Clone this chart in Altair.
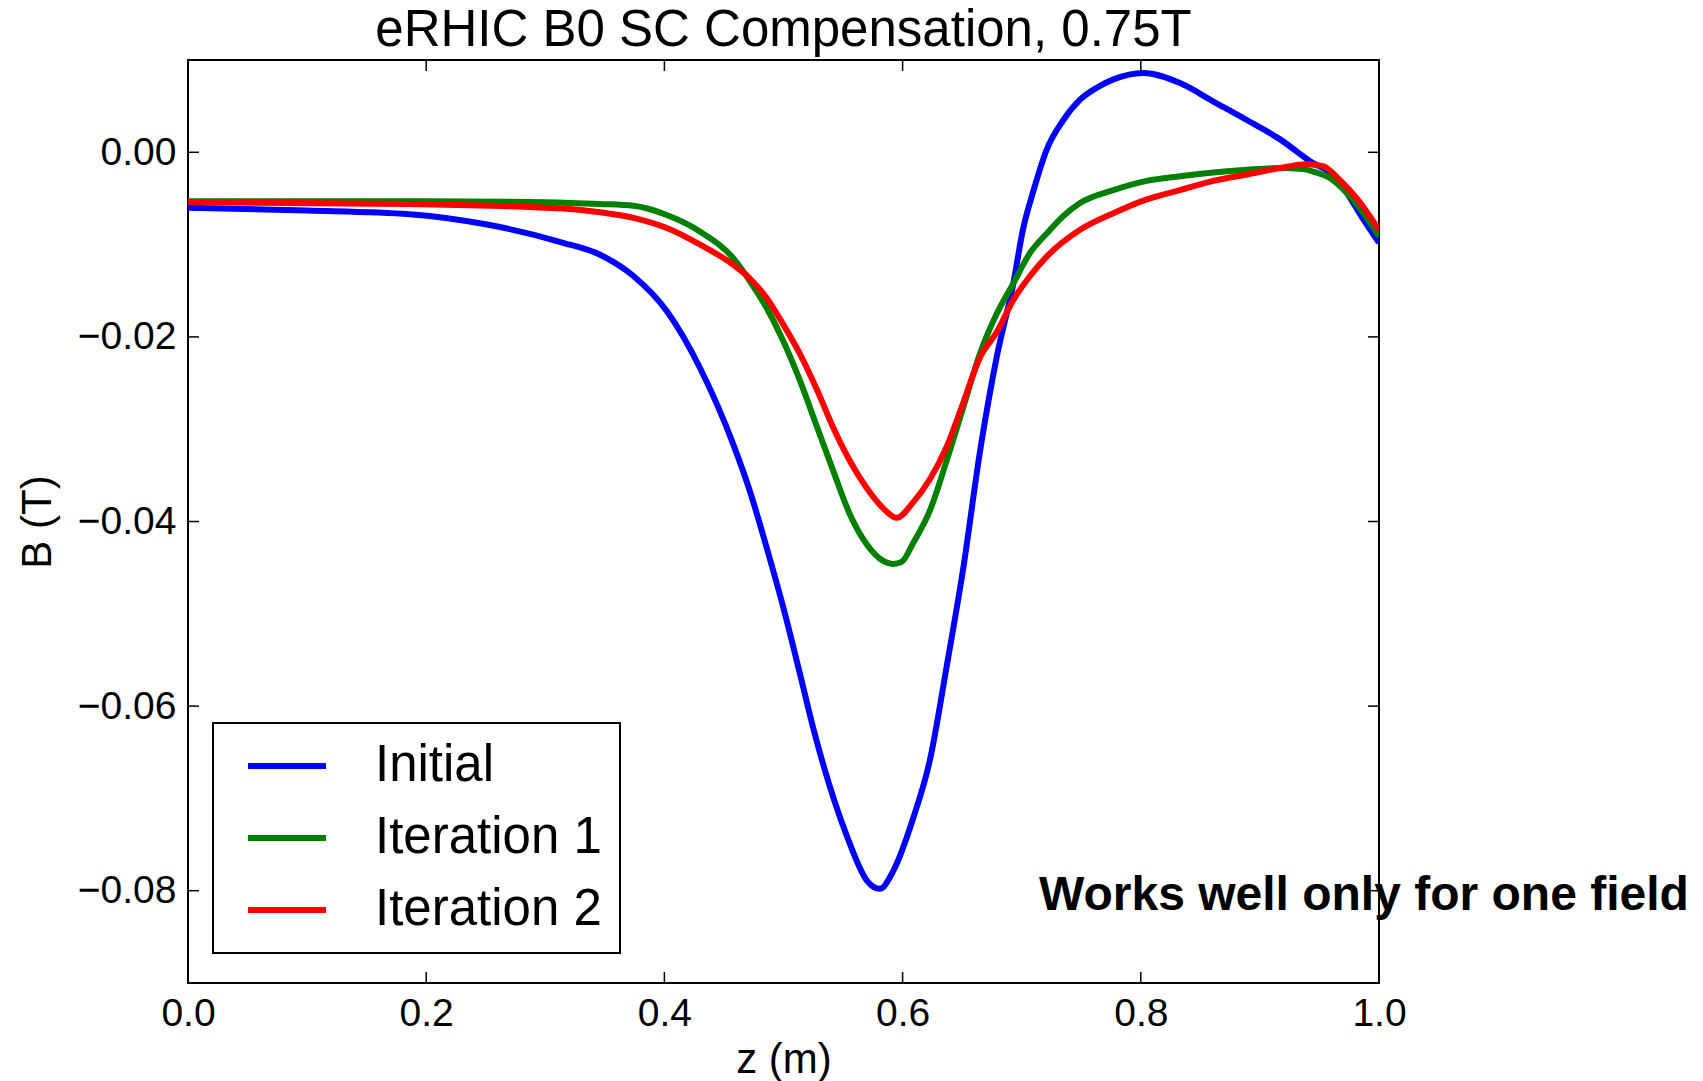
import altair as alt
import pandas as pd

TITLE = "eRHIC B0 SC Compensation, 0.75T"
X_TITLE = "z (m)"
Y_TITLE = "B (T)"
NOTE = "Works well only for one field"
SERIES = ["Initial", "Iteration 1", "Iteration 2"]
COLORS = ["#0000ff", "#008000", "#ff0000"]
X_TICKS = [0.0, 0.2, 0.4, 0.6, 0.8, 1.0]
Y_TICKS = [-0.08, -0.06, -0.04, -0.02, 0.0]
X_INNER_TICKS = [0.2, 0.4, 0.6, 0.8]

initial_z = [0.0, 0.10, 0.186, 0.25, 0.315, 0.346, 0.374, 0.402, 0.430, 0.458, 0.472,
             0.486, 0.500, 0.514, 0.525, 0.553, 0.570, 0.581, 0.592, 0.609, 0.623,
             0.637, 0.651, 0.665, 0.679, 0.693, 0.701, 0.710, 0.721, 0.735, 0.749,
             0.763, 0.777, 0.802, 0.833, 0.861, 0.889, 0.917, 0.945, 0.959, 0.973,
             0.987, 1.0]
initial_b = [-0.0060, -0.0063, -0.0067, -0.0078, -0.0098, -0.0111, -0.0134, -0.0172, -0.0234, -0.0317, -0.0368,
             -0.0429, -0.0494, -0.0566, -0.0624, -0.0740, -0.0789, -0.0798, -0.0779, -0.0721, -0.0658,
             -0.0557, -0.0450, -0.0324, -0.0222, -0.0142, -0.0084, -0.0041, 0.0003, 0.0035, 0.0057,
             0.0070, 0.0079, 0.0086, 0.0075, 0.0055, 0.0035, 0.0014, -0.0012, -0.0022, -0.0044,
             -0.0073, -0.0098]

iter1_z = [0.0, 0.20, 0.30, 0.346, 0.374, 0.402, 0.430, 0.458, 0.472, 0.486, 0.500,
           0.514, 0.528, 0.542, 0.556, 0.570, 0.584, 0.592, 0.599, 0.609, 0.623,
           0.637, 0.651, 0.665, 0.679, 0.693, 0.707, 0.721, 0.735, 0.749, 0.777,
           0.805, 0.833, 0.861, 0.889, 0.917, 0.936, 0.945, 0.959, 0.973, 0.987,
           1.0]
iter1_b = [-0.0053, -0.0053, -0.0054, -0.0056, -0.0058, -0.0068, -0.0086, -0.0115, -0.0140, -0.0169, -0.0205,
           -0.0248, -0.0297, -0.0346, -0.0393, -0.0425, -0.0443, -0.0446, -0.0444, -0.0423, -0.0388,
           -0.0334, -0.0276, -0.0218, -0.0175, -0.0142, -0.0109, -0.0088, -0.0069, -0.0055, -0.0041,
           -0.0031, -0.0026, -0.0022, -0.0019, -0.0017, -0.0018, -0.0021, -0.0028, -0.0044, -0.0066,
           -0.0091]

iter2_z = [0.0, 0.186, 0.315, 0.346, 0.374, 0.402, 0.430, 0.458, 0.472, 0.486, 0.500,
           0.514, 0.528, 0.542, 0.556, 0.570, 0.584, 0.595, 0.609, 0.623, 0.637,
           0.651, 0.665, 0.679, 0.693, 0.707, 0.721, 0.749, 0.777, 0.805, 0.833,
           0.861, 0.889, 0.917, 0.939, 0.953, 0.967, 0.982, 1.0]
iter2_b = [-0.0054, -0.0056, -0.0061, -0.0065, -0.0071, -0.0082, -0.0100, -0.0122, -0.0137, -0.0158, -0.0187,
           -0.0219, -0.0257, -0.0299, -0.0335, -0.0364, -0.0386, -0.0396, -0.0379, -0.0354, -0.0319,
           -0.0271, -0.0222, -0.0195, -0.0160, -0.0134, -0.0113, -0.0084, -0.0066, -0.0051, -0.0041,
           -0.0031, -0.0024, -0.0017, -0.0013, -0.0015, -0.0030, -0.0051, -0.0084]

FONT = "Liberation Sans"
W, H = 1191, 923

rows = []
for name, zs, bs in zip(SERIES, [initial_z, iter1_z, iter2_z], [initial_b, iter1_b, iter2_b]):
    for z, b in zip(zs, bs):
        rows.append({"z": z, "B": b, "series": name})
df = pd.DataFrame(rows)

x_scale = alt.Scale(domain=[0, 1], nice=False, zero=False)
y_scale = alt.Scale(domain=[-0.09, 0.01], nice=False, zero=False)
color_scale = alt.Scale(domain=SERIES, range=COLORS)

x_axis = alt.Axis(values=X_TICKS, format=".1f", labelPadding=11, tickSize=0, ticks=False,
                  labelFlush=False, labelOverlap=False, title=X_TITLE,
                  titleY=89, titleBaseline="alphabetic")
y_axis = alt.Axis(values=Y_TICKS, format=".2f", labelPadding=12, tickSize=0, ticks=False,
                  labelOverlap=False, title=Y_TITLE, titleAngle=270, titleX=-138, titleY=H / 2,
                  titleBaseline="alphabetic", titleAlign="center")

X_ENC = alt.X("z:Q", scale=x_scale, axis=x_axis)
Y_ENC = alt.Y("B:Q", scale=y_scale, axis=y_axis)

legend = alt.Legend(orient="none", legendX=25, legendY=663, title=None,
                    symbolType="stroke", symbolSize=6084, symbolStrokeWidth=6,
                    labelFontSize=51, labelFont=FONT, labelLimit=500, labelOffset=46,
                    symbolOffset=14, padding=18, rowPadding=21, clipHeight=50,
                    strokeColor="black", fillColor="white", labelColor="black")

layers = []
for name in SERIES:
    layers.append(
        alt.Chart(df).transform_filter(alt.datum.series == name)
        .mark_line(strokeWidth=6, interpolate="monotone", clip=True)
        .encode(x=X_ENC, y=Y_ENC,
                color=alt.Color("series:N", scale=color_scale, legend=legend))
    )

xt = pd.DataFrame({"z": X_INNER_TICKS})
yt = pd.DataFrame({"B": Y_TICKS})
tick_style = dict(color="black", strokeWidth=1.5)
top_ticks = alt.Chart(xt).mark_rule(**tick_style).encode(x=X_ENC, y=alt.value(0), y2=alt.value(11))
bot_ticks = alt.Chart(xt).mark_rule(**tick_style).encode(x=X_ENC, y=alt.value(H - 11), y2=alt.value(H))
left_ticks = alt.Chart(yt).mark_rule(**tick_style).encode(y=Y_ENC, x=alt.value(0), x2=alt.value(11))
right_ticks = alt.Chart(yt).mark_rule(**tick_style).encode(y=Y_ENC, x=alt.value(W - 11), x2=alt.value(W))

note = alt.Chart(pd.DataFrame({"note": [NOTE]})).mark_text(
    align="left", baseline="alphabetic", fontSize=48, fontWeight="bold", font=FONT, color="black"
).encode(text="note:N", x=alt.value(851), y=alt.value(850))

chart = alt.layer(*layers, top_ticks, bot_ticks, left_ticks, right_ticks, note).properties(
    width=W, height=H,
    title=alt.Title(TITLE, fontSize=51, font=FONT, fontWeight="normal", anchor="middle", offset=2, color="black"),
    autosize=alt.AutoSizeParams(type="none"),
    padding={"left": 188, "top": 60, "right": 324, "bottom": 98},
).configure_view(
    stroke="black", strokeWidth=2
).configure_axis(
    labelFont=FONT, labelFontSize=39, labelColor="black",
    titleFont=FONT, titleFontSize=42, titleColor="black", titleFontWeight="normal",
    domain=False, grid=False
).configure_legend(
    strokeWidth=2
)

chart.save("out.html", embed_options={"renderer": "svg", "actions": False})
